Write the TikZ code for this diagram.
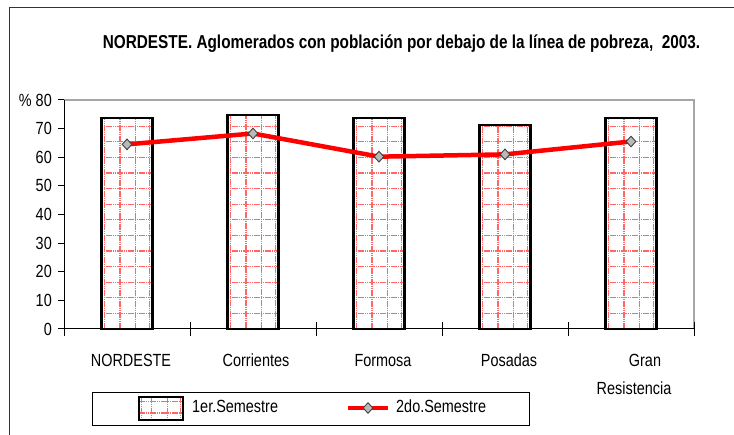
\documentclass[tikz,border=0pt]{standalone}
\usepackage{fontspec}
\setmainfont{Liberation Sans}
\newfontfamily\nar[FakeStretch=0.82]{Liberation Sans}
\usetikzlibrary{shapes.geometric}
\tikzset{
  patline/.style={red!60!white, line width=1.3pt, dash pattern=on 1.6pt off 0.6pt},
  barframe/.style={black, line width=2.2pt},
  redline/.style={red, line width=4.5pt, line join=round},
  mk/.style={diamond, draw=black!75, fill=gray!55, line width=0.9pt, inner sep=0pt, minimum width=10pt, minimum height=11pt},
  lbl/.style={font=\nar\fontsize{17.6}{20}\selectfont, inner sep=0pt},
  ttl/.style={font=\nar\bfseries\fontsize{18.7}{22}\selectfont, inner sep=0pt},
}
\newcommand\patbar[2]{%
  \pgfmathsetmacro\bl{#1-25.5}%
  \pgfmathsetmacro\br{#1+25.5}%
  \pgfmathsetmacro\bt{329-#2*2.8625}%
  \begin{scope}
    \clip (\bl,\bt) rectangle (\br,329);
    \foreach \k in {1,...,14} {\draw[patline] (\bl,{329-\k*15.6}) -- (\br,{329-\k*15.6});}
    \foreach \xo in {2.8,18.5,34,48.2} {\draw[patline] ({\bl+\xo},\bt) -- ({\bl+\xo},329);}
  \end{scope}
  \draw[barframe] (\bl,\bt) rectangle (\br,329);
}
\begin{document}
\begin{tikzpicture}[x=1pt,y=-1pt]
\useasboundingbox (0,0) rectangle (734,435);
\fill[white] (0,0) rectangle (734,435);
% outer frame
\draw[black!80, line width=1pt] (9,435) -- (9,8) -- (734,8);
% title
\node[ttl, anchor=base] (title) at (401.5,49) {NORDESTE. Aglomerados con población por debajo de la línea de pobreza,\ \ 2003.};
% plot area
\draw[gray!70, line width=1.2pt] (64,100) -- (694,100) -- (694,329);
% bars
\patbar{127}{73.6}
\patbar{253}{74.7}
\patbar{379}{73.6}
\patbar{505}{71.3}
\patbar{631}{73.6}
% axes
\draw[black, line width=1pt] (64,100) -- (64,329) -- (694,329);
\foreach \v in {0,...,8} {
  \draw[black, line width=1pt] (58,{329-\v*28.625}) -- (64,{329-\v*28.625});
}
\foreach \v in {0,...,7} {
  \node[lbl, anchor=east] (y\v) at (52,{329-\v*28.625}) {\pgfmathparse{int(\v*10)}\pgfmathresult};
}
\node[lbl, anchor=east] (y8) at (52,100) {\% 80};
\foreach \i in {0,...,5} {
  \draw[black, line width=1pt] ({64+\i*126},322) -- ({64+\i*126},336);
}
% category labels
\node[lbl, anchor=base] (c1) at (131,367) {NORDESTE};
\node[lbl, anchor=base] (c2) at (256,367) {Corrientes};
\node[lbl, anchor=base] (c3) at (383,367) {Formosa};
\node[lbl, anchor=base] (c4) at (509,367) {Posadas};
\node[lbl, anchor=base] (c5) at (645,367) {Gran};
\node[lbl, anchor=base] (c5b) at (634,395) {Resistencia};
% line series
\coordinate (p1) at (127,{329-64.5*2.8625});
\coordinate (p2) at (253,{329-68.3*2.8625});
\coordinate (p3) at (379,{329-60.2*2.8625});
\coordinate (p4) at (505,{329-61.0*2.8625});
\coordinate (p5) at (631,{329-65.5*2.8625});
\draw[redline] (p1) -- (p2) -- (p3) -- (p4) -- (p5);
\foreach \j in {1,...,5} {\node[mk] (m\j) at (p\j) {};}
% legend
\node[draw=black, line width=0.9pt, minimum width=437pt, minimum height=33pt, inner sep=0pt] (leg) at (310.5,408.5) {};
\begin{scope}
  \clip (139,397) rectangle (183,420);
  \foreach \yy in {401.7,413} {\draw[patline] (139,\yy) -- (183,\yy);}
  \foreach \xx in {141.8,151.7,167.3,180.2} {\draw[patline] (\xx,397) -- (\xx,420);}
\end{scope}
\node[draw=black, line width=2pt, minimum width=44pt, minimum height=23pt, inner sep=0pt] (legbar) at (161,408.5) {};
\node[lbl, anchor=base west] (legt1) at (192,413) {1er.Semestre};
\coordinate (la) at (348,408);
\coordinate (lb) at (388,408);
\draw[redline] (la) -- (lb);
\node[mk] (legmk) at (368,408) {};
\node[lbl, anchor=base west] (legt2) at (396,413) {2do.Semestre};
\end{tikzpicture}
\end{document}
